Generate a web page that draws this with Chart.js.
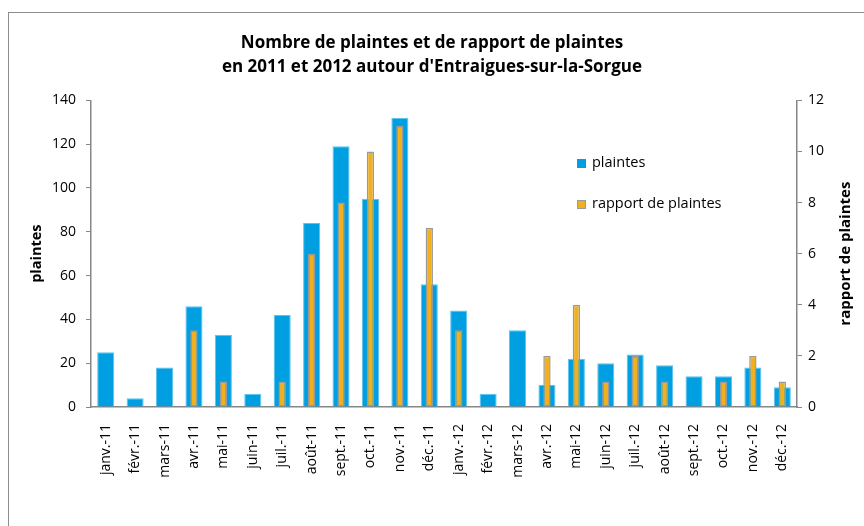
<!DOCTYPE html>
<html>
<head>
<meta charset="utf-8">
<script src="https://cdn.jsdelivr.net/npm/chart.js@4.4.1/dist/chart.umd.min.js"></script>
<style>
  html, body { margin: 0; padding: 0; background: #fff; overflow: hidden; }
  #wrap { position: relative; width: 864px; height: 526px; }
  #frame { position: absolute; left: 8px; top: 12px; width: 900px; height: 600px; border: 1px solid #8c8c8c; }
  #myChart { position: absolute; left: 0; top: 0; }
  #legend { position: absolute; left: 577px; top: 152px; font-family: "Open Sans", sans-serif; font-size: 14.5px; color: #000; }
  #legend div { height: 20px; line-height: 20px; margin-bottom: 21px; white-space: nowrap; }
  #legend span.box { display: inline-block; width: 9px; height: 9px; margin-right: 6px; vertical-align: -1px; box-sizing: border-box; }
</style>
</head>
<body>
<div id="wrap">
  <div id="frame"></div>
  <canvas id="myChart" width="864" height="526"></canvas>
  <div id="legend"></div>
</div>
<script>
const months = ['janv.-11', 'févr.-11', 'mars-11', 'avr.-11', 'mai-11', 'juin-11', 'juil.-11', 'août-11', 'sept.-11', 'oct.-11', 'nov.-11', 'déc.-11',
                'janv.-12', 'févr.-12', 'mars-12', 'avr.-12', 'mai-12', 'juin-12', 'juil.-12', 'août-12', 'sept.-12', 'oct.-12', 'nov.-12', 'déc.-12'];
const plaintes = [25, 4, 18, 46, 33, 6, 42, 84, 119, 95, 132, 56, 44, 6, 35, 10, 22, 20, 24, 19, 14, 14, 18, 9];
const rapports = [0, 0, 0, 3, 1, 0, 1, 6, 8, 10, 11, 7, 3, 0, 0, 2, 4, 1, 2, 1, 0, 1, 2, 1];
const leftTicks = [0, 20, 40, 60, 80, 100, 120, 140];
const rightTicks = [0, 2, 4, 6, 8, 10, 12];

const titleLines = ['Nombre de plaintes et de rapport de plaintes', "en 2011 et 2012 autour d'Entraigues-sur-la-Sorgue"];
const axisGrey = '#868686';
const fontFamily = '"Open Sans", sans-serif';

// right axis title reads bottom to top, like the left one
const rightTitle = {
    id: 'rightTitle',
    afterDraw(chart) {
        const scale = chart.scales.y1;
        const ctx = chart.ctx;
        ctx.save();
        ctx.translate(846, (chart.chartArea.top + chart.chartArea.bottom) / 2);
        ctx.rotate(-Math.PI / 2);
        ctx.font = 'bold 15px ' + fontFamily;
        ctx.fillStyle = '#000';
        ctx.textAlign = 'center';
        ctx.textBaseline = 'middle';
        ctx.fillText(scale.options.title.text, 0, 0);
        ctx.restore();
    }
};

const ctx = document.getElementById('myChart').getContext('2d');

const data = {
    labels: months,
    datasets: [
        {
            label: 'plaintes',
            data: plaintes,
            yAxisID: 'y',
            order: 2,
            grouped: false,
            backgroundColor: '#009fe1',
            borderColor: '#5cc3ee',
            borderWidth: 1,
            borderSkipped: 'bottom',
            barPercentage: 0.58,
            categoryPercentage: 1
        },
        {
            label: 'rapport de plaintes',
            data: rapports,
            yAxisID: 'y1',
            order: 1,
            grouped: false,
            backgroundColor: '#f0b01f',
            borderColor: '#9a9a9a',
            borderWidth: 1.5,
            borderSkipped: false,
            inflateAmount: 0,
            barPercentage: 0.25,
            categoryPercentage: 1
        }
    ]
};

window.myChart = new Chart(ctx, {
    type: 'bar',
    data: data,
    plugins: [rightTitle],
    options: {
        responsive: false,
        animation: false,
        layout: { padding: { left: 0, right: 0, top: 0, bottom: 0 } },
        scales: {
            x: {
                grid: { display: false },
                border: { display: true, color: axisGrey, width: 1.5 },
                ticks: {
                    maxRotation: 90,
                    minRotation: 90,
                    autoSkip: false,
                    padding: 9,
                    color: '#000',
                    font: { family: fontFamily, size: 14 }
                },
                afterFit: function(scale) { scale.height = 119; }
            },
            y: {
                position: 'left',
                min: 0,
                max: 140,
                afterBuildTicks: function(scale) { scale.ticks = leftTicks.map(v => ({ value: v })); },
                grid: { drawOnChartArea: false, tickLength: 5, color: axisGrey },
                border: { display: true, color: axisGrey, width: 1.5 },
                ticks: { padding: 10, color: '#000', font: { family: fontFamily, size: 14 } },
                title: { display: true, text: 'plaintes', color: '#000', padding: { top: 28, bottom: 0 }, font: { family: fontFamily, size: 14.5, weight: 'bold' } },
                afterFit: function(scale) { scale.width = 91; }
            },
            y1: {
                position: 'right',
                min: 0,
                max: 12,
                afterBuildTicks: function(scale) { scale.ticks = rightTicks.map(v => ({ value: v })); },
                grid: { drawOnChartArea: false, tickLength: 5, color: axisGrey },
                border: { display: true, color: axisGrey, width: 1.5 },
                ticks: { padding: 6, color: '#000', font: { family: fontFamily, size: 14 } },
                title: { display: false, text: 'rapport de plaintes' },
                afterFit: function(scale) { scale.width = 67; }
            }
        },
        plugins: {
            legend: { display: false },
            tooltip: { enabled: false },
            title: {
                display: true,
                text: titleLines,
                color: '#000',
                font: { family: fontFamily, size: 17, weight: 'bold', lineHeight: 1.42 },
                padding: { top: 31, bottom: 21 }
            }
        }
    }
});

// legend in the plot, built from the datasets
const legendDiv = document.getElementById('legend');
data.datasets.forEach(function(ds) {
    const row = document.createElement('div');
    const box = document.createElement('span');
    box.className = 'box';
    box.style.background = ds.backgroundColor;
    if (ds.borderSkipped === false) box.style.border = '1px solid ' + ds.borderColor;
    row.appendChild(box);
    row.appendChild(document.createTextNode(ds.label));
    legendDiv.appendChild(row);
});
</script>
</body>
</html>
